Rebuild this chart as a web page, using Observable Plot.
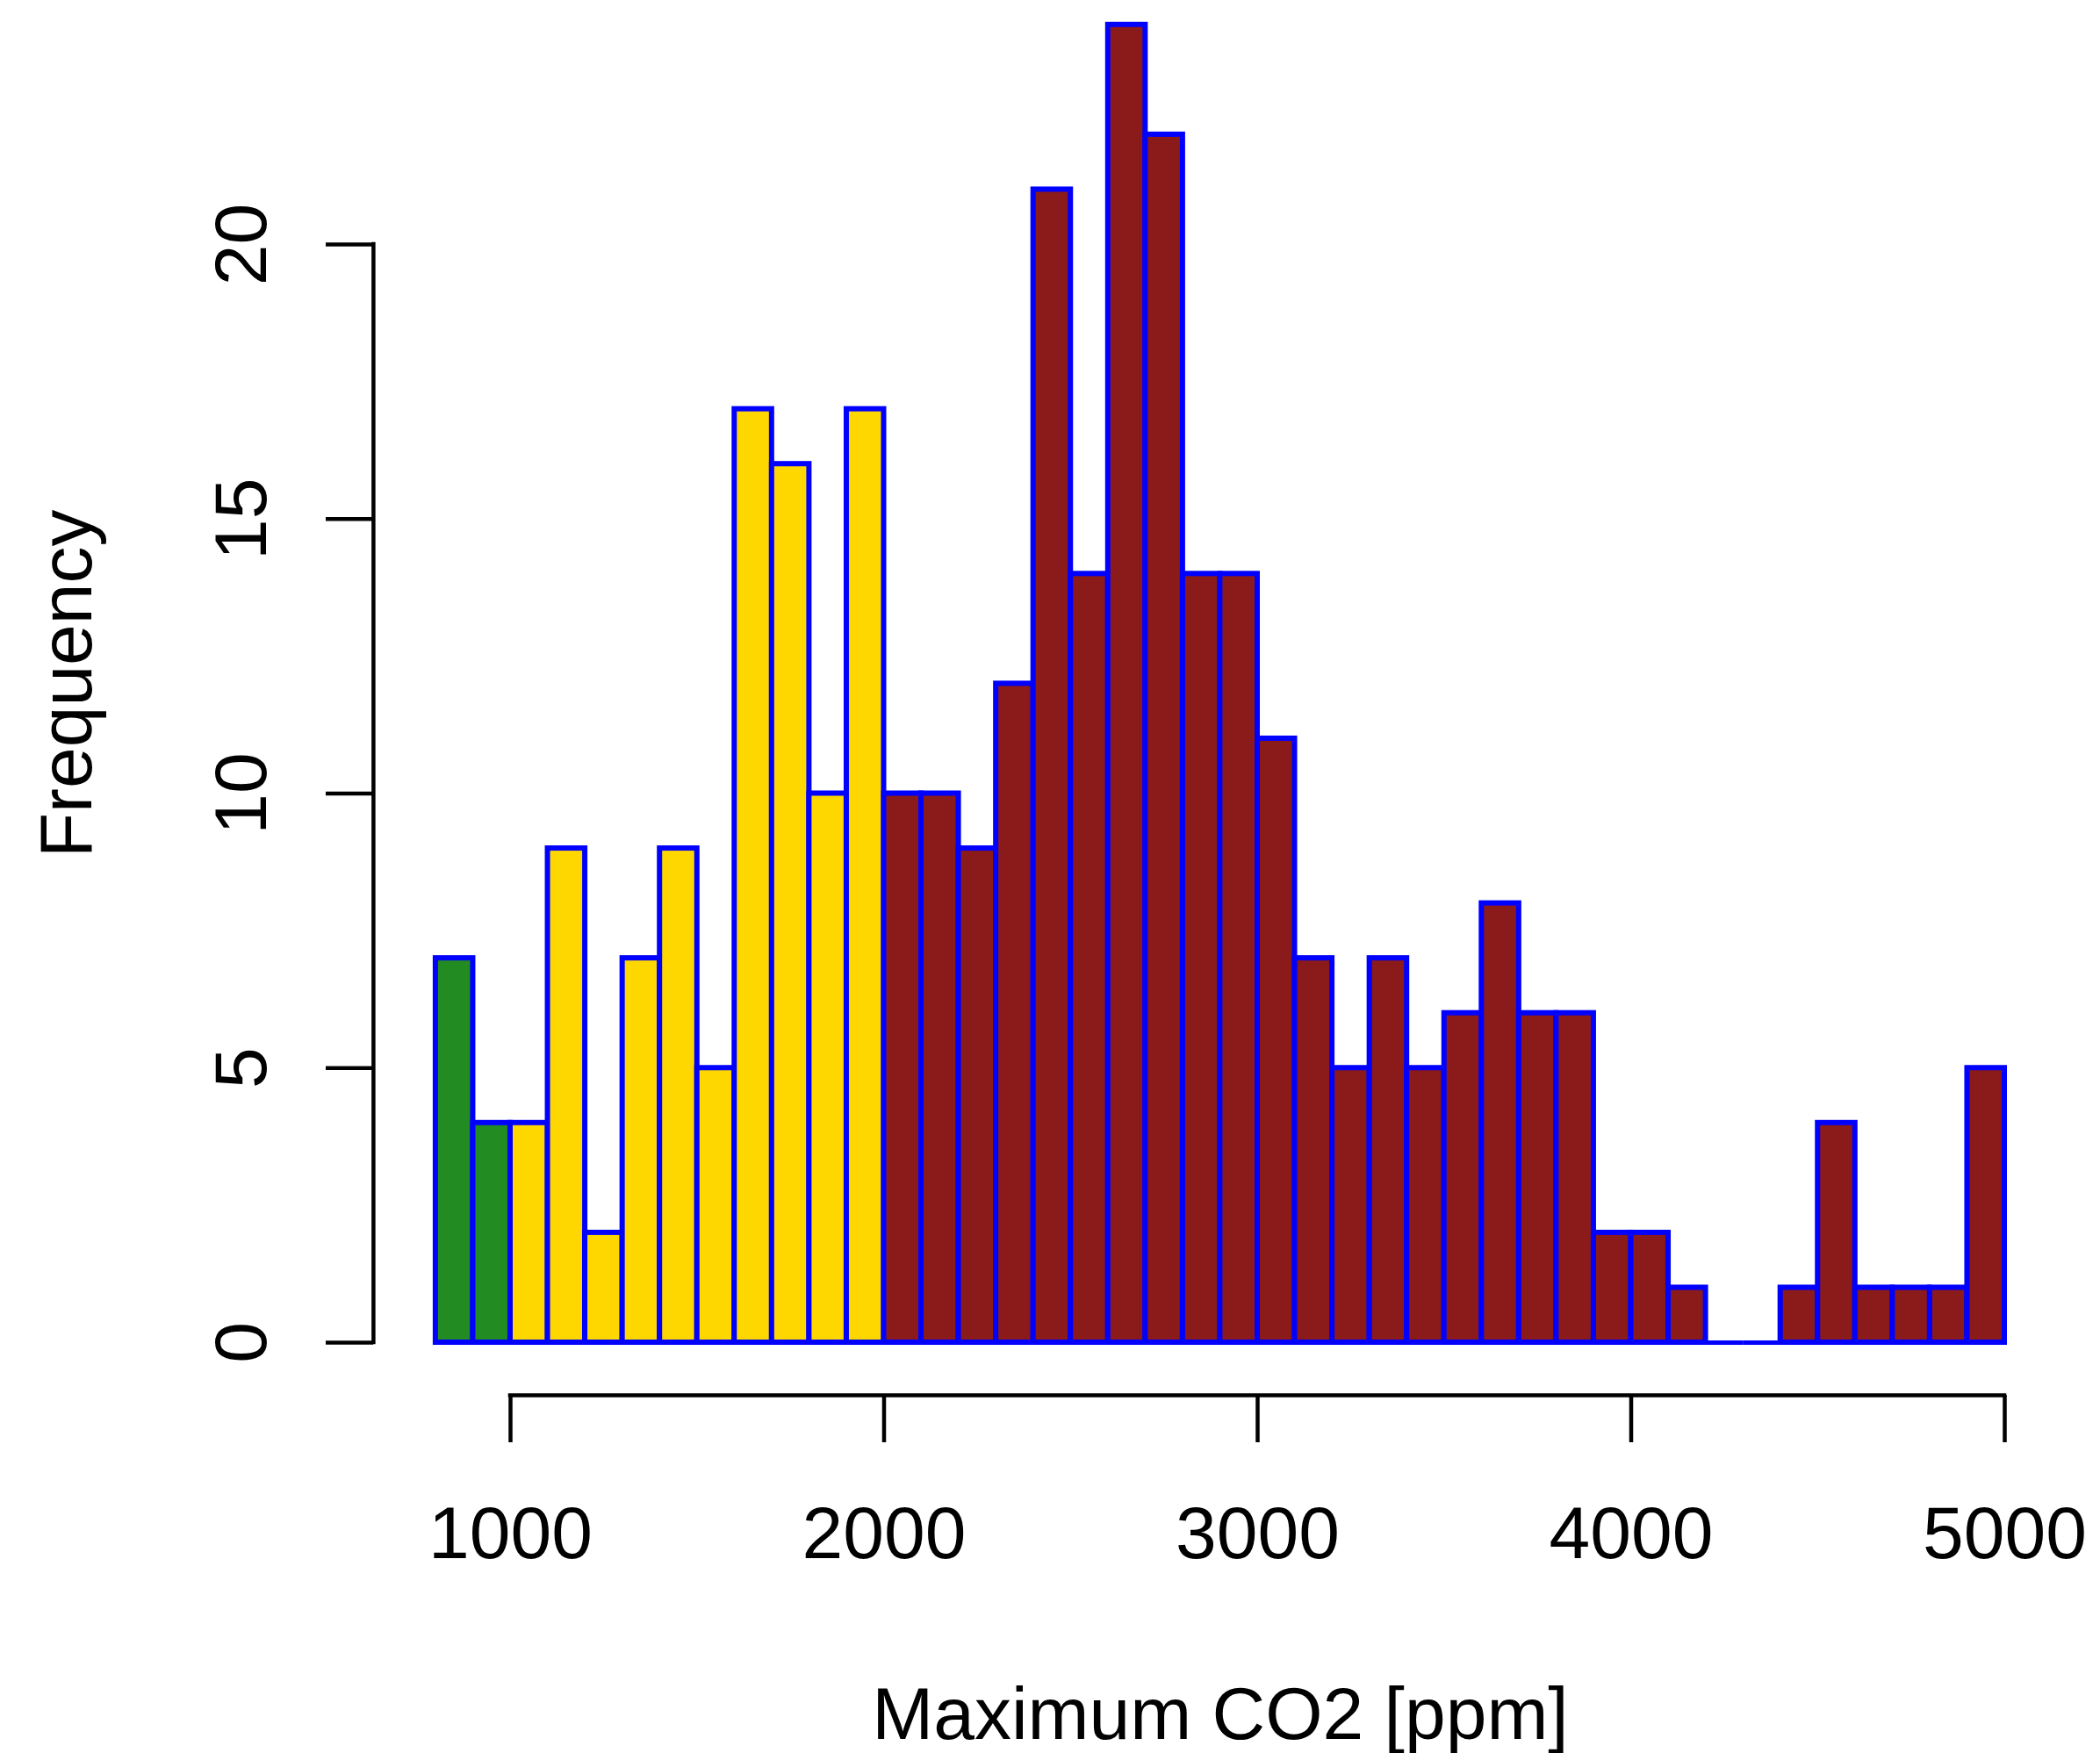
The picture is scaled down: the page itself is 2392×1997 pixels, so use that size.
<!DOCTYPE html>
<html>
<head>
<meta charset="utf-8">
<script src="https://cdn.jsdelivr.net/npm/d3@7"></script>
<script src="https://cdn.jsdelivr.net/npm/@observablehq/plot@0.6"></script>
<style>
  html, body { margin: 0; padding: 0; background: #ffffff; }
  #chart svg { display: block; }
</style>
</head>
<body>
<div id="chart"></div>
<script>
// ---------- data ----------
const binStarts = [800, 900, 1000, 1100, 1200, 1300, 1400, 1500, 1600, 1700,
                   1800, 1900, 2000, 2100, 2200, 2300, 2400, 2500, 2600, 2700,
                   2800, 2900, 3000, 3100, 3200, 3300, 3400, 3500, 3600, 3700,
                   3800, 3900, 4000, 4100, 4200, 4300, 4400, 4500, 4600, 4700,
                   4800, 4900];
const binEnds   = [900, 1000, 1100, 1200, 1300, 1400, 1500, 1600, 1700, 1800,
                   1900, 2000, 2100, 2200, 2300, 2400, 2500, 2600, 2700, 2800,
                   2900, 3000, 3100, 3200, 3300, 3400, 3500, 3600, 3700, 3800,
                   3900, 4000, 4100, 4200, 4300, 4400, 4500, 4600, 4700, 4800,
                   4900, 5000];
const counts    = [7, 4, 4, 9, 2, 7, 9, 5, 17, 16,
                   10, 17, 10, 10, 9, 12, 21, 14, 24, 22,
                   14, 14, 11, 7, 5, 7, 5, 6, 8, 6,
                   6, 2, 2, 1, 0, 0, 1, 4, 1, 1,
                   1, 5];
const groupBreaks = [1000, 2000];
const groupNames  = ["low", "medium", "high"];
const groupColors = ["#228B22", "#FFD700", "#8B1A1A"];
const xTicks = [1000, 2000, 3000, 4000, 5000];
const yTicks = [0, 5, 10, 15, 20];
const xLabel = "Maximum CO2 [ppm]";
const yLabel = "Frequency";

// ---------- table ----------
const bins = binStarts.map((s, i) => ({
  x0: s, x1: binEnds[i], count: counts[i],
  group: groupNames[d3.bisectRight(groupBreaks, s)]
}));
const emptyBins = bins.filter(d => d.count === 0);

const xMin = d3.min(binStarts), xMax = d3.max(binEnds);
const yMax = d3.max(counts);
const xMid = (xMin + xMax) / 2;
const yMid = yMax / 2;

// ---------- layout ----------
const W = 2392, H = 1997;
const font = "'Liberation Sans', Arial, Helvetica, sans-serif";
const fs = 84;
const axisW = 4.5;

const chart = Plot.plot({
  width: W,
  height: H,
  marginLeft: 425,
  marginRight: 0,
  marginTop: 0,
  marginBottom: 408,
  style: { fontFamily: font, background: "#ffffff", overflow: "visible" },
  x: { type: "linear", domain: [xMin, xMax], range: [495.9, 2283], axis: null },
  y: { type: "linear", domain: [0, yMax], range: [1529, 1529 - yMax * 62.55], axis: null },
  color: { type: "ordinal", domain: groupNames, range: groupColors },
  marks: [
    Plot.rectY(bins, {
      x1: "x0", x2: "x1", y1: 0, y2: "count",
      fill: "group", stroke: "#0000FF", strokeWidth: 6
    }),
    Plot.ruleY(emptyBins, {
      x1: "x0", x2: "x1", y: () => 0,
      stroke: "#0000FF", strokeWidth: 5
    }),
    // x axis
    Plot.ruleY([0], { x1: xTicks[0], x2: xTicks[xTicks.length - 1], dy: 60, stroke: "black", strokeWidth: axisW, strokeLinecap: "square" }),
    Plot.axisX(xTicks, {
      anchor: "bottom", tickSize: 54, tickPadding: 72, strokeWidth: axisW,
      tickFormat: d => String(d), fontSize: fs, color: "black", label: null
    }),
    Plot.text([xLabel], {
      x: () => xMid, frameAnchor: "bottom", dy: 391, text: d => d,
      fontSize: fs, lineAnchor: "bottom", textAnchor: "middle", fill: "black"
    }),
    // y axis
    Plot.ruleX([xMin], { y1: yTicks[0], y2: yTicks[yTicks.length - 1], dx: -71, stroke: "black", strokeWidth: axisW, strokeLinecap: "square" }),
    Plot.axisY(yTicks, {
      anchor: "left", tickSize: 54, tickPadding: 69, tickRotate: -90, strokeWidth: axisW,
      tickFormat: d => String(d), fontSize: fs, color: "black", label: null
    }),
    Plot.text([yLabel], {
      y: () => yMid, frameAnchor: "left", dx: -322, rotate: -90, text: d => d,
      fontSize: fs, lineAnchor: "bottom", textAnchor: "middle", fill: "black"
    })
  ]
});

document.getElementById("chart").appendChild(chart);
</script>
</body>
</html>
